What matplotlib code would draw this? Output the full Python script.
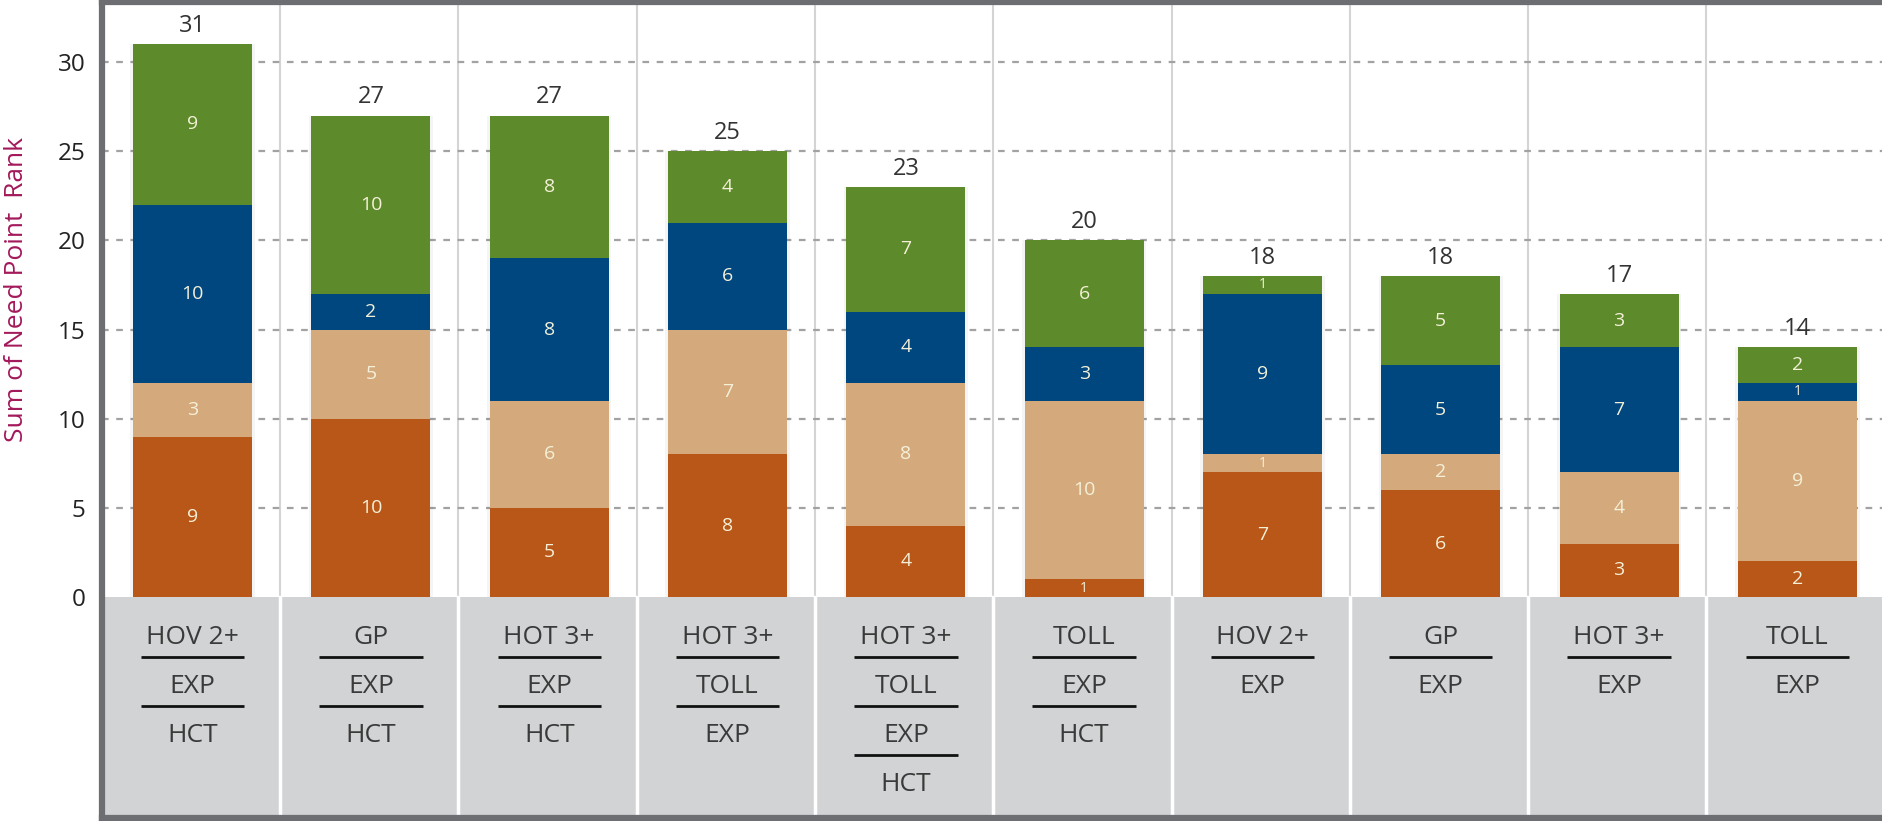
import matplotlib.pyplot as plt

plt.rcParams['font.family'] = ['Open Sans', 'DejaVu Sans']

# alternative labels (each one stacked as several lines)
alternatives = [
    ["HOV 2+", "EXP", "HCT"],
    ["GP", "EXP", "HCT"],
    ["HOT 3+", "EXP", "HCT"],
    ["HOT 3+", "TOLL", "EXP"],
    ["HOT 3+", "TOLL", "EXP", "HCT"],
    ["TOLL", "EXP", "HCT"],
    ["HOV 2+", "EXP"],
    ["GP", "EXP"],
    ["HOT 3+", "EXP"],
    ["TOLL", "EXP"],
]

# need point ranks, bottom to top
orange = [9, 10, 5, 8, 4, 1, 7, 6, 3, 2]
tan = [3, 5, 6, 7, 8, 10, 1, 2, 4, 9]
blue = [10, 2, 8, 6, 4, 3, 9, 5, 7, 1]
green = [9, 10, 8, 4, 7, 6, 1, 5, 3, 2]

series = [orange, tan, blue, green]
colors = ["#b85717", "#d4aa7d", "#00467f", "#5d8a2a"]
yticks = [0, 5, 10, 15, 20, 25, 30]

W, H = 1883, 821
fig = plt.figure(figsize=(W / 100, H / 100), dpi=100)
ax = fig.add_axes([102 / W, 3 / H, 1 - 102 / W + 0.01, 1 - 5.5 / H])

ymin, ymax = -12.39, 33.34
x0, x1 = -0.508, 9.48 + 0.01 * W / 178.3
ax.set_xlim(x0, x1)
ax.set_ylim(ymin, ymax)

n = len(alternatives)
xs = list(range(n))

# gray label area below zero
ax.axhspan(ymin, 0, color="#d1d3d4", zorder=0, lw=0)

# column dividers
for i in range(n):
    xd = i + 0.49
    ax.plot([xd, xd], [0, ymax], color="#d4d4d4", lw=1.5, zorder=1)
    ax.plot([xd, xd], [ymin, 0], color="white", lw=2.5, zorder=1)

# dashed gridlines
for t in yticks[1:]:
    ax.plot([x0, x1], [t, t], color="#a2a2a2", lw=1.6, ls=(0, (3, 3.4)), zorder=2)

# stacked bars
bottoms = [0] * n
bw = 0.667
for vals, c in zip(series, colors):
    # soft shadow
    ax.bar(xs, vals, bw + 0.03, bottom=bottoms, color="#000000", alpha=0.04, lw=0, zorder=2.5)
    ax.bar(xs, vals, bw, bottom=bottoms, color=c, lw=0, zorder=3)
    for i, v in enumerate(vals):
        fs = 10 if v == 1 else 14
        ax.text(i, bottoms[i] + v / 2, str(v), ha="center", va="center",
                color="#f4f0d8", fontsize=fs, zorder=4)
    bottoms = [b + v for b, v in zip(bottoms, vals)]

# totals
for i, tot in enumerate(bottoms):
    ax.text(i, tot + 0.35, str(tot), ha="center", va="bottom",
            color="#333333", fontsize=17, zorder=4)

# category labels with separating rules
px = 17.83  # pixels per unit
for i, lines in enumerate(alternatives):
    for k, s in enumerate(lines):
        yt = -(40 + 49 * k) / px
        ax.text(i, yt, s, ha="center", va="center", color="#3a3a3a",
                fontsize=19, zorder=4)
        if k < len(lines) - 1:
            yl = -(60 + 49 * k) / px
            ax.plot([i - 0.29, i + 0.29], [yl, yl], color="#111111", lw=2, zorder=4,
                    solid_capstyle="butt")

# axes frame
for side in ["left", "top", "bottom"]:
    ax.spines[side].set_color("#6d6e71")
    ax.spines[side].set_linewidth(4.5)
    ax.spines[side].set_zorder(5)
ax.spines["right"].set_visible(False)

ax.set_xticks([])
ax.set_yticks(yticks)
ax.tick_params(axis="y", length=0, pad=12, labelsize=17.5, labelcolor="#222222")

fig.text(17 / W, 1 - 289 / H, "Sum of Need Point  Rank", rotation=90,
         ha="center", va="center", color="#a3195b", fontsize=19)

fig.savefig("out.png", dpi=100)
